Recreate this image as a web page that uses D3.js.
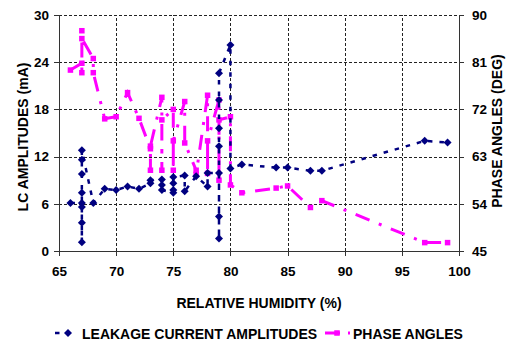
<!DOCTYPE html>
<html>
<head>
<meta charset="utf-8">
<script src="https://cdn.jsdelivr.net/npm/d3@7"></script>
<style>
  html, body { margin: 0; padding: 0; background: #fff; }
  svg { display: block; font-family: Arial, "Liberation Sans", sans-serif; font-weight: bold; }
</style>
</head>
<body>
<svg id="chart" width="506" height="343"></svg>
<script>
// Leakage current amplitude (mA) against relative humidity (%), in recording order
const lcHumidity = [66, 67, 67, 67, 67, 67, 67, 67, 67, 68, 69, 70, 71, 72,
  73, 73, 74, 74, 74, 75, 75, 75, 75, 76, 76, 77, 78, 78,
  79, 79, 79, 79, 79, 79, 79, 80, 80, 81, 84, 85, 87, 88, 97, 99];
const lcAmplitude = [6.1, 6.1, 5.6, 3.6, 1.1, 7.4, 9.8, 11.6, 12.8, 6.1, 7.9, 7.75, 8.2, 7.9,
  8.6, 9.0, 9.1, 8.4, 7.75, 7.4, 7.75, 8.6, 9.4, 9.6, 7.6, 9.5, 8.2, 9.9,
  9.9, 4.4, 1.6, 13.3, 15.6, 19.2, 22.6, 26.2, 10.5, 11.0, 10.6, 10.6, 10.2, 10.2, 14.0, 13.8];

// Phase angle (deg) against relative humidity (%), in recording order
const paHumidity = [66, 67, 67, 67, 67, 68, 68, 69, 70, 71, 72,
  73, 73, 73, 74, 74, 74, 75, 75, 75, 76, 76, 77, 77,
  78, 78, 78, 79, 79, 79, 80, 80, 81, 84, 85, 87, 88, 97, 99];
const phaseAngle = [79.5, 80.8, 79.0, 87.0, 85.5, 81.7, 79.0, 70.2, 70.6, 75.2, 70.3,
  64.5, 60.4, 65.0, 74.3, 60.4, 70.0, 72.0, 60.4, 66.0, 73.5, 65.6, 60.4, 59.6,
  74.7, 59.8, 66.0, 73.8, 58.5, 70.0, 70.6, 57.6, 56.1, 57.0, 57.4, 53.3, 54.6, 46.6, 46.6];

const xTicks = [65, 70, 75, 80, 85, 90, 95, 100];
const lcTicks = [0, 6, 12, 18, 24, 30];
const paTicks = [45, 54, 63, 72, 81, 90];

const seriesNames = ["LEAKAGE CURRENT AMPLITUDES", "PHASE ANGLES"];
const xTitle = "RELATIVE HUMIDITY (%)";
const lcTitle = "LC AMPLITUDES (mA)";
const paTitle = "PHASE ANGLES (DEG)";

const NAVY = "#000080", MAGENTA = "#ff00ff";
const margin = { left: 59, right: 47, top: 15, bottom: 92 };
const W = 506, H = 343;

const svg = d3.select("#chart");
const x = d3.scaleLinear().domain([65, 100]).range([margin.left, W - margin.right]);
const yL = d3.scaleLinear().domain([0, 30]).range([H - margin.bottom, margin.top]);
const yR = d3.scaleLinear().domain([45, 90]).range([H - margin.bottom, margin.top]);

// dashed gridlines
const grid = svg.append("g").attr("stroke", "#222").attr("stroke-width", 1)
  .attr("stroke-dasharray", "3,2").attr("shape-rendering", "crispEdges");
grid.selectAll("line.h").data(lcTicks.slice(1)).join("line")
  .attr("x1", x(65)).attr("x2", x(100))
  .attr("y1", d => Math.round(yL(d)) + 0.5).attr("y2", d => Math.round(yL(d)) + 0.5);
grid.selectAll("line.v").data(xTicks.slice(1, -1)).join("line")
  .attr("y1", yL(0)).attr("y2", yL(30))
  .attr("x1", d => Math.round(x(d)) + 0.5).attr("x2", d => Math.round(x(d)) + 0.5);

// axes
function styleAxis(g) {
  g.selectAll("path, line").attr("stroke", "#333").attr("shape-rendering", "crispEdges");
  g.selectAll("text").attr("fill", "#000").style("font-size", "13.5px").style("font-weight", "bold");
}
svg.append("g").attr("transform", `translate(0,${yL(0)})`)
  .call(d3.axisBottom(x).tickValues(xTicks).tickFormat(d3.format("d")).tickSizeOuter(0).tickSize(5).tickPadding(10))
  .call(styleAxis);
svg.append("g").attr("transform", `translate(${x(65)},0)`)
  .call(d3.axisLeft(yL).tickValues(lcTicks).tickFormat(d3.format("d")).tickSizeOuter(0).tickSize(5).tickPadding(5))
  .call(styleAxis);
svg.append("g").attr("transform", `translate(${x(100)},0)`)
  .call(d3.axisRight(yR).tickValues(paTicks).tickFormat(d3.format("d")).tickSizeOuter(0).tickSize(5).tickPadding(8))
  .call(styleAxis);

// series data
const lcData = lcHumidity.map((h, i) => ({ h, v: lcAmplitude[i] }));
const paData = paHumidity.map((h, i) => ({ h, v: phaseAngle[i] }));

const plot = svg.append("g");

// phase angles: long dash-dot line with square markers
plot.append("path").datum(paData)
  .attr("fill", "none").attr("stroke", MAGENTA).attr("stroke-width", 3)
  .attr("stroke-dasharray", "15,10,3,10")
  .attr("d", d3.line().x(d => x(d.h)).y(d => yR(d.v)));
const sq = 5.5;
plot.selectAll("rect.pa").data(paData).join("rect")
  .attr("x", d => x(d.h) - sq / 2).attr("y", d => yR(d.v) - sq / 2)
  .attr("width", sq).attr("height", sq).attr("fill", MAGENTA);

// leakage current: short dashed line with diamond markers (square turned 45°)
plot.append("path").datum(lcData)
  .attr("fill", "none").attr("stroke", NAVY).attr("stroke-width", 2.5)
  .attr("stroke-dasharray", "4.5,7")
  .attr("d", d3.line().x(d => x(d.h)).y(d => yL(d.v)));
const diamond = d3.symbol().type(d3.symbolSquare).size(32);
plot.selectAll("path.lc").data(lcData).join("path")
  .attr("transform", d => `translate(${x(d.h)},${yL(d.v)}) rotate(45)`)
  .attr("d", diamond).attr("fill", NAVY);

// axis titles
svg.append("text").attr("x", (x(65) + x(100)) / 2).attr("y", 308)
  .attr("text-anchor", "middle").style("font-size", "14px").text(xTitle);
svg.append("text").attr("transform", "translate(28,137) rotate(-90)")
  .attr("text-anchor", "middle").style("font-size", "14px").text(lcTitle);
svg.append("text").attr("transform", "translate(502,131) rotate(-90)")
  .attr("text-anchor", "middle").style("font-size", "14px").text(paTitle);

// legend
const leg = svg.append("g");
const ly = 333;
leg.append("line").attr("x1", 55).attr("x2", 70).attr("y1", ly).attr("y2", ly)
  .attr("stroke", NAVY).attr("stroke-width", 2.5).attr("stroke-dasharray", "4.5,7");
leg.append("path").attr("transform", `translate(68,${ly}) rotate(45)`).attr("d", diamond).attr("fill", NAVY);
leg.append("text").attr("x", 82).attr("y", ly + 6).style("font-size", "14px").text(seriesNames[0]);
leg.append("line").attr("x1", 325).attr("x2", 351).attr("y1", ly).attr("y2", ly)
  .attr("stroke", MAGENTA).attr("stroke-width", 3).attr("stroke-dasharray", "15,8,2,8");
leg.append("rect").attr("x", 337 - sq / 2).attr("y", ly - sq / 2).attr("width", sq).attr("height", sq).attr("fill", MAGENTA);
leg.append("text").attr("x", 353).attr("y", ly + 6).style("font-size", "14px").text(seriesNames[1]);
</script>
</body>
</html>
